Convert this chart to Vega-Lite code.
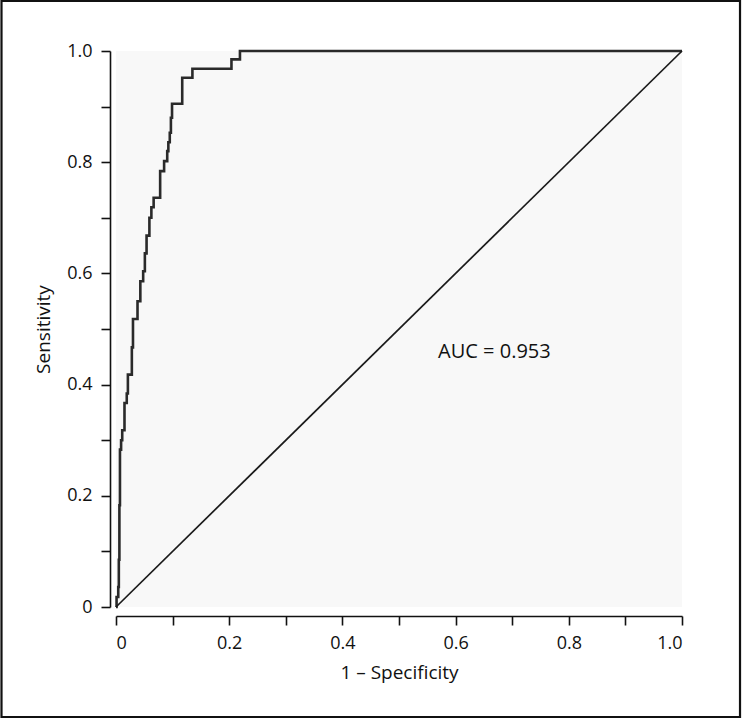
{
  "$schema": "https://vega.github.io/schema/vega-lite/v6.json",
  "width": 566,
  "height": 556,
  "autosize": {"type": "none"},
  "padding": {"left": 116, "top": 51, "right": 63, "bottom": 113},
  "background": "white",
  "config": {
    "view": {"fill": "#f8f8f8", "stroke": null},
    "font": "Open Sans",
    "axis": {
      "grid": false,
      "domainColor": "#111111",
      "domainWidth": 1.6,
      "tickColor": "#111111",
      "tickWidth": 1.6,
      "tickSize": 9,
      "labelColor": "#111111",
      "labelFont": "Open Sans",
      "labelFontSize": 18,
      "titleFont": "Open Sans",
      "titleFontSize": 19,
      "titleFontWeight": "normal",
      "titleColor": "#111111"
    }
  },
  "datasets": {
    "roc": [
      {"fpr": 0, "tpr": 0},
      {"fpr": 0.001, "tpr": 0.018},
      {"fpr": 0.004, "tpr": 0.036},
      {"fpr": 0.005, "tpr": 0.085},
      {"fpr": 0.006, "tpr": 0.183},
      {"fpr": 0.007, "tpr": 0.283},
      {"fpr": 0.009, "tpr": 0.300},
      {"fpr": 0.011, "tpr": 0.318},
      {"fpr": 0.015, "tpr": 0.367},
      {"fpr": 0.019, "tpr": 0.384},
      {"fpr": 0.021, "tpr": 0.418},
      {"fpr": 0.028, "tpr": 0.467},
      {"fpr": 0.030, "tpr": 0.518},
      {"fpr": 0.038, "tpr": 0.550},
      {"fpr": 0.043, "tpr": 0.586},
      {"fpr": 0.048, "tpr": 0.604},
      {"fpr": 0.051, "tpr": 0.636},
      {"fpr": 0.054, "tpr": 0.668},
      {"fpr": 0.059, "tpr": 0.700},
      {"fpr": 0.0625, "tpr": 0.719},
      {"fpr": 0.0665, "tpr": 0.736},
      {"fpr": 0.078, "tpr": 0.784},
      {"fpr": 0.085, "tpr": 0.802},
      {"fpr": 0.0905, "tpr": 0.820},
      {"fpr": 0.0925, "tpr": 0.836},
      {"fpr": 0.095, "tpr": 0.853},
      {"fpr": 0.097, "tpr": 0.880},
      {"fpr": 0.099, "tpr": 0.905},
      {"fpr": 0.117, "tpr": 0.952},
      {"fpr": 0.135, "tpr": 0.968},
      {"fpr": 0.204, "tpr": 0.985},
      {"fpr": 0.219, "tpr": 1.0},
      {"fpr": 1.0, "tpr": 1.0}
    ],
    "diag": [
      {"fpr": 0, "tpr": 0},
      {"fpr": 1, "tpr": 1}
    ],
    "one": [{}]
  },
  "layer": [
    {
      "data": {"name": "roc"},
      "mark": {"type": "line", "interpolate": "step-after", "color": "#2a2a2a", "strokeWidth": 2.6},
      "encoding": {
        "x": {
          "field": "fpr", "type": "quantitative",
          "scale": {"domain": [0, 1], "nice": false, "zero": false},
          "axis": {
            "title": "1 – Specificity",
            "offset": 9,
            "values": [0, 0.1, 0.2, 0.3, 0.4, 0.5, 0.6, 0.7, 0.8, 0.9, 1.0],
            "labelExpr": "round(datum.value * 10) % 2 == 1 ? '' : (datum.value == 0 ? '0' : format(datum.value, '.1f'))",
            "labelPadding": 9,
            "titlePadding": 11
          }
        },
        "y": {
          "field": "tpr", "type": "quantitative",
          "scale": {"domain": [0, 1], "nice": false, "zero": false},
          "axis": {
            "title": "Sensitivity",
            "offset": 6,
            "values": [0, 0.1, 0.2, 0.3, 0.4, 0.5, 0.6, 0.7, 0.8, 0.9, 1.0],
            "labelExpr": "round(datum.value * 10) % 2 == 1 ? '' : (datum.value == 0 ? '0' : format(datum.value, '.1f'))",
            "labelPadding": 9,
            "titlePadding": 13
          }
        }
      }
    },
    {
      "data": {"name": "diag"},
      "mark": {"type": "line", "color": "#1a1a1a", "strokeWidth": 1.7},
      "encoding": {
        "x": {"field": "fpr", "type": "quantitative"},
        "y": {"field": "tpr", "type": "quantitative"}
      }
    },
    {
      "data": {"name": "one"},
      "mark": {"type": "text", "align": "left", "baseline": "middle", "fontSize": 20, "font": "Open Sans", "color": "#111111"},
      "encoding": {
        "x": {"datum": 0.569, "type": "quantitative"},
        "y": {"datum": 0.459, "type": "quantitative"},
        "text": {"value": "AUC = 0.953"}
      }
    },
    {
      "data": {"name": "one"},
      "mark": {"type": "rect", "filled": false, "stroke": "#111111", "strokeWidth": 2.2, "clip": false},
      "encoding": {
        "x": {"datum": -0.2023, "type": "quantitative"},
        "x2": {"datum": 1.1025},
        "y": {"datum": 1.0899, "type": "quantitative"},
        "y2": {"datum": -0.1978}
      }
    }
  ]
}
